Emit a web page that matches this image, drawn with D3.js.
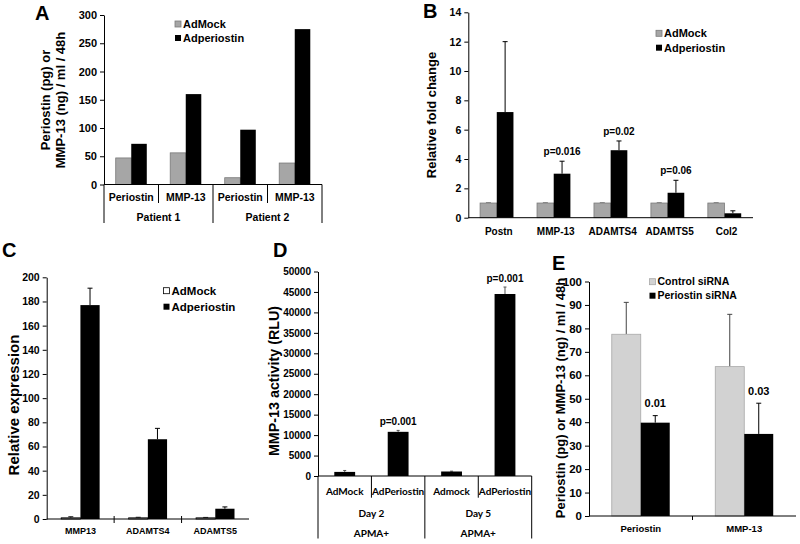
<!DOCTYPE html>
<html><head><meta charset="utf-8">
<script src="https://cdn.jsdelivr.net/npm/d3@7"></script>
<style>
body{margin:0;background:#fff}
svg text{font-family:"Liberation Sans",Arial,sans-serif;font-weight:bold;fill:#000}
</style>
</head><body>
<svg id="chart" width="800" height="544"></svg>
<script>
// ---------- DATA ----------
// Panel A
const aCategories = ["Periostin","MMP-13","Periostin","MMP-13"];
const aGroups = ["Patient 1","Patient 2"];
const aSeries = ["AdMock","Adperiostin"];
const aAdMock = [47, 56, 12, 38];
const aAdperiostin = [72, 160, 97, 275];
const aTicks = [0,50,100,150,200,250,300];
// Panel B
const bCategories = ["Postn","MMP-13","ADAMTS4","ADAMTS5","Col2"];
const bSeries = ["AdMock","Adperiostin"];
const bAdMock = [1,1,1,1,1];
const bAdMockErr = [0.03,0.03,0.03,0.03,0.03];
const bAdperiostin = [7.2, 3.0, 4.6, 1.7, 0.3];
const bAdperiostinErr = [4.8, 0.85, 0.63, 0.85, 0.17];
const bPvalues = ["","p=0.016","p=0.02","p=0.06",""];
const bTicks = [0,2,4,6,8,10,12,14];
// Panel C
const cCategories = ["MMP13","ADAMTS4","ADAMTS5"];
const cSeries = ["AdMock","Adperiostin"];
const cAdMock = [1,1,1];
const cAdMockErr = [0.8,0.4,0.3];
const cAdperiostin = [177, 66, 8.5];
const cAdperiostinErr = [14, 9, 1.5];
const cTicks = [0,20,40,60,80,100,120,140,160,180,200];
// Panel D
const dCategories = ["AdMock","AdPeriostin","Admock","AdPeriostin"];
const dDays = ["Day 2","Day 5"];
const dTreatment = ["APMA+","APMA+"];
const dValues = [1000, 10800, 1100, 44500];
const dErr = [350, 350, 80, 1700];
const dPvalues = ["","p=0.001","","p=0.001"];
const dTicks = [0,5000,10000,15000,20000,25000,30000,35000,40000,45000,50000];
// Panel E
const eCategories = ["Periostin","MMP-13"];
const eSeries = ["Control siRNA","Periostin siRNA"];
const eControl = [77.5, 63.7];
const eControlErr = [13.6, 22.3];
const ePeriostinSi = [39.8, 35.0];
const ePeriostinSiErr = [3.0, 13.1];
const ePvalues = ["0.01","0.03"];
const eTicks = [0,10,20,30,40,50,60,70,80,90,100];

// ---------- HELPERS ----------
const svg = d3.select("#chart");
const GRAY = "#a6a6a6", GRAY_S = "#7a7a7a", LIGHT = "#d2d2d2", LIGHT_S = "#a8a8a8";

function yAxis(g, y, x0, ticks, fs){
  const ax = g.append("g").attr("transform",`translate(${x0},0)`)
    .call(d3.axisLeft(y).tickValues(ticks).tickFormat(d3.format("d")).tickSize(4).tickSizeOuter(0).tickPadding(3));
  ax.select(".domain").attr("stroke","#000");
  ax.selectAll(".tick line").attr("stroke","#000");
  ax.selectAll("text").style("font-size",fs+"px");
  return ax;
}
function xLine(g, x0, x1, yb){
  g.append("line").attr("x1",x0).attr("x2",x1).attr("y1",yb).attr("y2",yb).attr("stroke","#000");
}
function bars(g, x, y, n, seriesList, frac, cap){
  const bw = x.bandwidth();
  const inner = d3.scaleBand().domain(d3.range(seriesList.length))
    .range([bw*(1-frac)/2, bw*(1+frac)/2]).padding(0);
  const out = [];
  seriesList.forEach((s,i)=>{
    const data = d3.range(n).map(j=>({j, v:s.vals[j], e:s.errs?s.errs[j]:null,
      cx:x(j)+inner(i)+inner.bandwidth()/2}));
    if(s.errs){
      const eg = g.append("g").attr("stroke", s.errColor||"#000").attr("stroke-width",1);
      eg.selectAll(null).data(data).join("line")
        .attr("x1",d=>d.cx).attr("x2",d=>d.cx).attr("y1",d=>y(d.v)).attr("y2",d=>y(d.v+d.e));
      eg.selectAll(null).data(data).join("line")
        .attr("x1",d=>d.cx-cap).attr("x2",d=>d.cx+cap).attr("y1",d=>y(d.v+d.e)).attr("y2",d=>y(d.v+d.e));
    }
    g.selectAll(null).data(data).join("rect")
      .attr("x",d=>x(d.j)+inner(i)).attr("width",inner.bandwidth())
      .attr("y",d=>y(d.v)).attr("height",d=>y(0)-y(d.v))
      .attr("fill",s.fill).attr("stroke",s.stroke||"none").attr("stroke-width",s.stroke?0.8:0);
    out.push(data);
  });
  return out;
}
function legend(g, x, y, items, fs, gap){
  items.forEach((it,i)=>{
    const cy = y + i*gap;
    g.append("rect").attr("x",x).attr("y",cy-3).attr("width",6).attr("height",6)
      .attr("fill",it.fill).attr("stroke",it.stroke||"none").attr("stroke-width",0.8);
    g.append("text").attr("x",x+8).attr("y",cy+fs*0.36).style("font-size",fs+"px").text(it.name);
  });
}
function yTitle(g, cx, cy, lines, fs, lh){
  const t = g.append("text").attr("transform",`translate(${cx},${cy}) rotate(-90)`)
    .attr("text-anchor","middle").style("font-size",fs+"px");
  const off = -(lines.length-1)*lh/2;
  lines.forEach((l,i)=>t.append("tspan").attr("x",0).attr("y",off+i*lh).attr("dy","0.35em").text(l));
}
function panelLabel(x,y,t){
  svg.append("text").attr("x",x).attr("y",y).style("font-size","20px").text(t);
}

// ---------- PANEL A ----------
{
  const g = svg.append("g");
  const x = d3.scaleBand().domain(d3.range(aCategories.length)).range([104,322]);
  const y = d3.scaleLinear().domain([0,300]).range([184.5,15]);
  bars(g,x,y,aCategories.length,[
    {vals:aAdMock, fill:GRAY, stroke:GRAY_S},
    {vals:aAdperiostin, fill:"#000"}],0.57,3);
  yAxis(g,y,104,aTicks,11);
  xLine(g,104,322,184.5);
  [1,3].forEach(j=>g.append("line").attr("x1",x(j)).attr("x2",x(j)).attr("y1",184.5).attr("y2",203).attr("stroke","#000"));
  [104,x(2),322].forEach(xx=>g.append("line").attr("x1",xx).attr("x2",xx).attr("y1",184.5).attr("y2",223).attr("stroke","#000"));
  g.selectAll(null).data(aCategories).join("text").attr("x",(d,i)=>x(i)+x.bandwidth()/2).attr("y",201)
    .attr("text-anchor","middle").style("font-size","10.5px").text(d=>d);
  g.selectAll(null).data(aGroups).join("text").attr("x",(d,i)=>x(i*2+1)).attr("y",220.5)
    .attr("text-anchor","middle").style("font-size","10.5px").text(d=>d);
  legend(g,175,24,[{name:aSeries[0],fill:GRAY,stroke:GRAY_S},{name:aSeries[1],fill:"#000"}],11,14);
  yTitle(g,53,100,["Periostin (pg) or","MMP-13 (ng) / ml / 48h"],13,15);
  panelLabel(35,20,"A");
}

// ---------- PANEL B ----------
{
  const g = svg.append("g");
  const x = d3.scaleBand().domain(d3.range(bCategories.length)).range([468.3,753]);
  const y = d3.scaleLinear().domain([0,14]).range([217.7,12.3]);
  const res = bars(g,x,y,bCategories.length,[
    {vals:bAdMock, errs:bAdMockErr, fill:GRAY, stroke:GRAY_S, errColor:"#888"},
    {vals:bAdperiostin, errs:bAdperiostinErr, fill:"#000"}],0.586,2.5);
  yAxis(g,y,468.3,bTicks,10.5);
  xLine(g,468.3,753,217.7);
  g.selectAll(null).data(res[1]).join("text").attr("x",d=>d.cx).attr("y",d=>y(d.v+d.e)-6)
    .attr("text-anchor","middle").style("font-size","10px").text((d,i)=>bPvalues[i]);
  g.selectAll(null).data(bCategories).join("text").attr("x",(d,i)=>x(i)+x.bandwidth()/2+2).attr("y",234.5)
    .attr("text-anchor","middle").style("font-size","10px").text(d=>d);
  legend(g,656,33.3,[{name:bSeries[0],fill:GRAY,stroke:GRAY_S},{name:bSeries[1],fill:"#000"}],11,14.4);
  yTitle(g,431,115,["Relative fold change"],13,15);
  panelLabel(423,18,"B");
}

// ---------- PANEL C ----------
{
  const g = svg.append("g");
  const x = d3.scaleBand().domain(d3.range(cCategories.length)).range([46.7,249]);
  const y = d3.scaleLinear().domain([0,200]).range([519,277.3]);
  bars(g,x,y,cCategories.length,[
    {vals:cAdMock, errs:cAdMockErr, fill:"#fff", stroke:"#000"},
    {vals:cAdperiostin, errs:cAdperiostinErr, fill:"#000"}],0.57,2.5);
  yAxis(g,y,46.7,cTicks,10.5);
  xLine(g,46.7,249,519);
  [1,2].forEach(j=>g.append("line").attr("x1",x(j)).attr("x2",x(j)).attr("y1",516).attr("y2",523).attr("stroke","#000"));
  g.selectAll(null).data(cCategories).join("text").attr("x",(d,i)=>x(i)+x.bandwidth()/2).attr("y",533.5)
    .attr("text-anchor","middle").style("font-size","9px").text(d=>d);
  legend(g,163.5,290.7,[{name:cSeries[0],fill:"#fff",stroke:"#000"},{name:cSeries[1],fill:"#000"}],11.5,16);
  yTitle(g,14,405,["Relative expression"],15,15);
  panelLabel(2,257,"C");
}

// ---------- PANEL D ----------
{
  const g = svg.append("g");
  const x = d3.scaleBand().domain(d3.range(dCategories.length)).range([318,531.7]);
  const y = d3.scaleLinear().domain([0,50000]).range([476,271.5]);
  const res = bars(g,x,y,dCategories.length,[
    {vals:dValues, errs:dErr, fill:"#000", errColor:"#555"}],0.39,1.5);
  yAxis(g,y,318,dTicks,10);
  xLine(g,318,531.7,476);
  [1,3].forEach(j=>g.append("line").attr("x1",x(j)).attr("x2",x(j)).attr("y1",476).attr("y2",497.7).attr("stroke","#000"));
  [318,x(2),531.7].forEach(xx=>g.append("line").attr("x1",xx).attr("x2",xx).attr("y1",476).attr("y2",538.5).attr("stroke","#000"));
  g.selectAll(null).data(res[0]).join("text").attr("x",d=>d.cx).attr("y",d=>y(d.v+d.e)-5.5)
    .attr("text-anchor","middle").style("font-size","10px").text((d,i)=>dPvalues[i]);
  const lab = s=>s.style("font-family","Lato, 'Open Sans', sans-serif").style("font-size","10px").attr("text-anchor","middle");
  g.selectAll(null).data(dCategories).join("text").attr("x",(d,i)=>x(i)+x.bandwidth()/2).attr("y",494.5).call(lab).text(d=>d);
  g.selectAll(null).data(dDays).join("text").attr("x",(d,i)=>x(i*2+1)).attr("y",516.5).call(lab).text(d=>d);
  g.selectAll(null).data(dTreatment).join("text").attr("x",(d,i)=>x(i*2+1)).attr("y",537).call(lab).text(d=>d);
  yTitle(g,274,381,["MMP-13 activity (RLU)"],14.3,16);
  panelLabel(273,257,"D");
}

// ---------- PANEL E ----------
{
  const g = svg.append("g");
  const x = d3.scaleBand().domain(d3.range(eCategories.length)).range([589,796]);
  const y = d3.scaleLinear().domain([0,100]).range([516,281.5]);
  const res = bars(g,x,y,eCategories.length,[
    {vals:eControl, errs:eControlErr, fill:LIGHT, stroke:LIGHT_S, errColor:"#444"},
    {vals:ePeriostinSi, errs:ePeriostinSiErr, fill:"#000"}],0.56,2.5);
  yAxis(g,y,589,eTicks,11.5);
  xLine(g,589,796,516);
  g.append("line").attr("x1",x(1)).attr("x2",x(1)).attr("y1",516).attr("y2",520).attr("stroke","#000");
  g.selectAll(null).data(res[1]).join("text").attr("x",d=>d.cx).attr("y",d=>y(d.v+d.e)-8.5)
    .attr("text-anchor","middle").style("font-size","11px").text((d,i)=>ePvalues[i]);
  g.selectAll(null).data(eCategories).join("text").attr("x",(d,i)=>x(i)+x.bandwidth()/2).attr("y",531.5)
    .attr("text-anchor","middle").style("font-size","9.5px").text(d=>d);
  legend(g,649.5,281.7,[{name:eSeries[0],fill:LIGHT,stroke:LIGHT_S},{name:eSeries[1],fill:"#000"}],10.5,14);
  yTitle(g,560,398,["Periostin (pg) or MMP-13 (ng) / ml / 48h"],13,15);
  panelLabel(552,270,"E");
}
</script>
</body></html>
